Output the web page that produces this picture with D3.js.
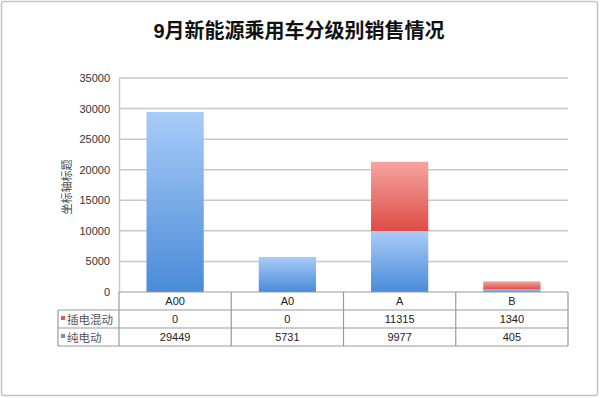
<!DOCTYPE html>
<html><head><meta charset="utf-8">
<script src="https://cdn.jsdelivr.net/npm/d3@7"></script>
<style>body{margin:0;background:#fff}svg{display:block}text{font-family:"Liberation Sans","Noto Sans CJK SC",sans-serif}</style>
</head><body><svg id="c" width="600" height="398"></svg>
<script>
const categories = ["A00","A0","A","B"];
const seriesNames = ["插电混动","纯电动"];
const hybrid = [0,0,11315,1340];
const electric = [29449,5731,9977,405];
const yTicks = [0,5000,10000,15000,20000,25000,30000,35000];
const title = "9月新能源乘用车分级别销售情况";
const yTitle = "坐标轴标题";

const svg = d3.select("#c");
const defs = svg.append("defs");
function grad(id, c1, c2){
  const g = defs.append("linearGradient").attr("id",id).attr("x1",0).attr("y1",0).attr("x2",0).attr("y2",1);
  g.append("stop").attr("offset","0%").attr("stop-color",c1);
  g.append("stop").attr("offset","100%").attr("stop-color",c2);
}
grad("gBlue","#a9ccf9","#4a8bd8");
grad("gRed","#f7a4a0","#dd4d45");

svg.append("rect").attr("x",1.5).attr("y",1.5).attr("width",596).attr("height",394)
  .attr("rx",2).attr("fill","#fff").attr("stroke","#c4c4c4").attr("stroke-width",1.5);

svg.append("text").attr("x",299).attr("y",38).attr("text-anchor","middle")
  .attr("font-size",20).attr("font-weight","bold").attr("fill","#111")
  .attr("font-family","'Liberation Sans','Noto Sans CJK SC',sans-serif").text(title);

const x = d3.scaleBand().domain(categories).range([119,568]).padding(0);
const y = d3.scaleLinear().domain([0,35000]).range([292,78]);

// gridlines
svg.append("g").selectAll("line").data(yTicks.slice(1)).join("line")
  .attr("x1",119).attr("x2",568).attr("y1",d=>y(d)).attr("y2",d=>y(d))
  .attr("stroke","#c8c8c8").attr("stroke-width",1.5);

// y axis
const yAxis = d3.axisLeft(y).tickValues(yTicks).tickFormat(d3.format("d")).tickSize(0).tickPadding(9);
const ga = svg.append("g").attr("transform","translate(119,0)").call(yAxis);
ga.select(".domain").attr("stroke","#c8c8c8").attr("stroke-width",1.5);
ga.selectAll("text").attr("font-size",11).attr("fill","#333")
  .attr("font-family","'Liberation Sans',sans-serif");

svg.append("text").attr("transform","translate(71,187) rotate(-90)").attr("text-anchor","middle")
  .attr("font-size",11).attr("fill","#444").attr("font-family","'Noto Sans CJK SC',sans-serif").text(yTitle);

// bars
const bw = x.bandwidth()*0.51;
const bars = svg.append("g");
categories.forEach((c,i)=>{
  const cx = x(c)+x.bandwidth()/2;
  if(electric[i]>0) bars.append("rect").attr("x",cx-bw/2).attr("width",bw)
    .attr("y",y(electric[i])).attr("height",y(0)-y(electric[i])).attr("fill","url(#gBlue)");
  if(hybrid[i]>0) bars.append("rect").attr("x",cx-bw/2).attr("width",bw)
    .attr("y",y(electric[i]+hybrid[i])).attr("height",y(electric[i])-y(electric[i]+hybrid[i])).attr("fill","url(#gRed)");
});

// data table
const rowY = [292,310,328,346];
const tl = svg.append("g").attr("stroke","#9a9a9a").attr("stroke-width",1.2).attr("fill","none");
tl.append("line").attr("x1",119).attr("x2",568).attr("y1",rowY[0]).attr("y2",rowY[0]);
[1,2,3].forEach(r=>tl.append("line").attr("x1",58).attr("x2",568).attr("y1",rowY[r]).attr("y2",rowY[r]));
tl.append("line").attr("x1",58).attr("x2",58).attr("y1",rowY[1]).attr("y2",rowY[3]);
categories.forEach(c=>tl.append("line").attr("x1",x(c)).attr("x2",x(c)).attr("y1",rowY[0]).attr("y2",rowY[3]));
tl.append("line").attr("x1",568).attr("x2",568).attr("y1",rowY[0]).attr("y2",rowY[3]);

const tt = svg.append("g").attr("font-size",11).attr("fill","#222").attr("text-anchor","middle");
categories.forEach((c,i)=>{
  const cx = x(c)+x.bandwidth()/2;
  tt.append("text").attr("x",cx).attr("y",rowY[0]+13).text(c);
  tt.append("text").attr("x",cx).attr("y",rowY[1]+13).text(hybrid[i]);
  tt.append("text").attr("x",cx).attr("y",rowY[2]+13).text(electric[i]);
});
const colors = ["#e05a55","#5a96e0"];
seriesNames.forEach((s,k)=>{
  svg.append("rect").attr("x",61).attr("y",rowY[k+1]+6).attr("width",4).attr("height",4).attr("fill",colors[k]);
  svg.append("text").attr("x",67).attr("y",rowY[k+1]+13.5).attr("font-size",11.5).attr("fill","#555")
    .attr("font-family","'Noto Sans CJK SC',sans-serif").text(s);
});
</script></body></html>
